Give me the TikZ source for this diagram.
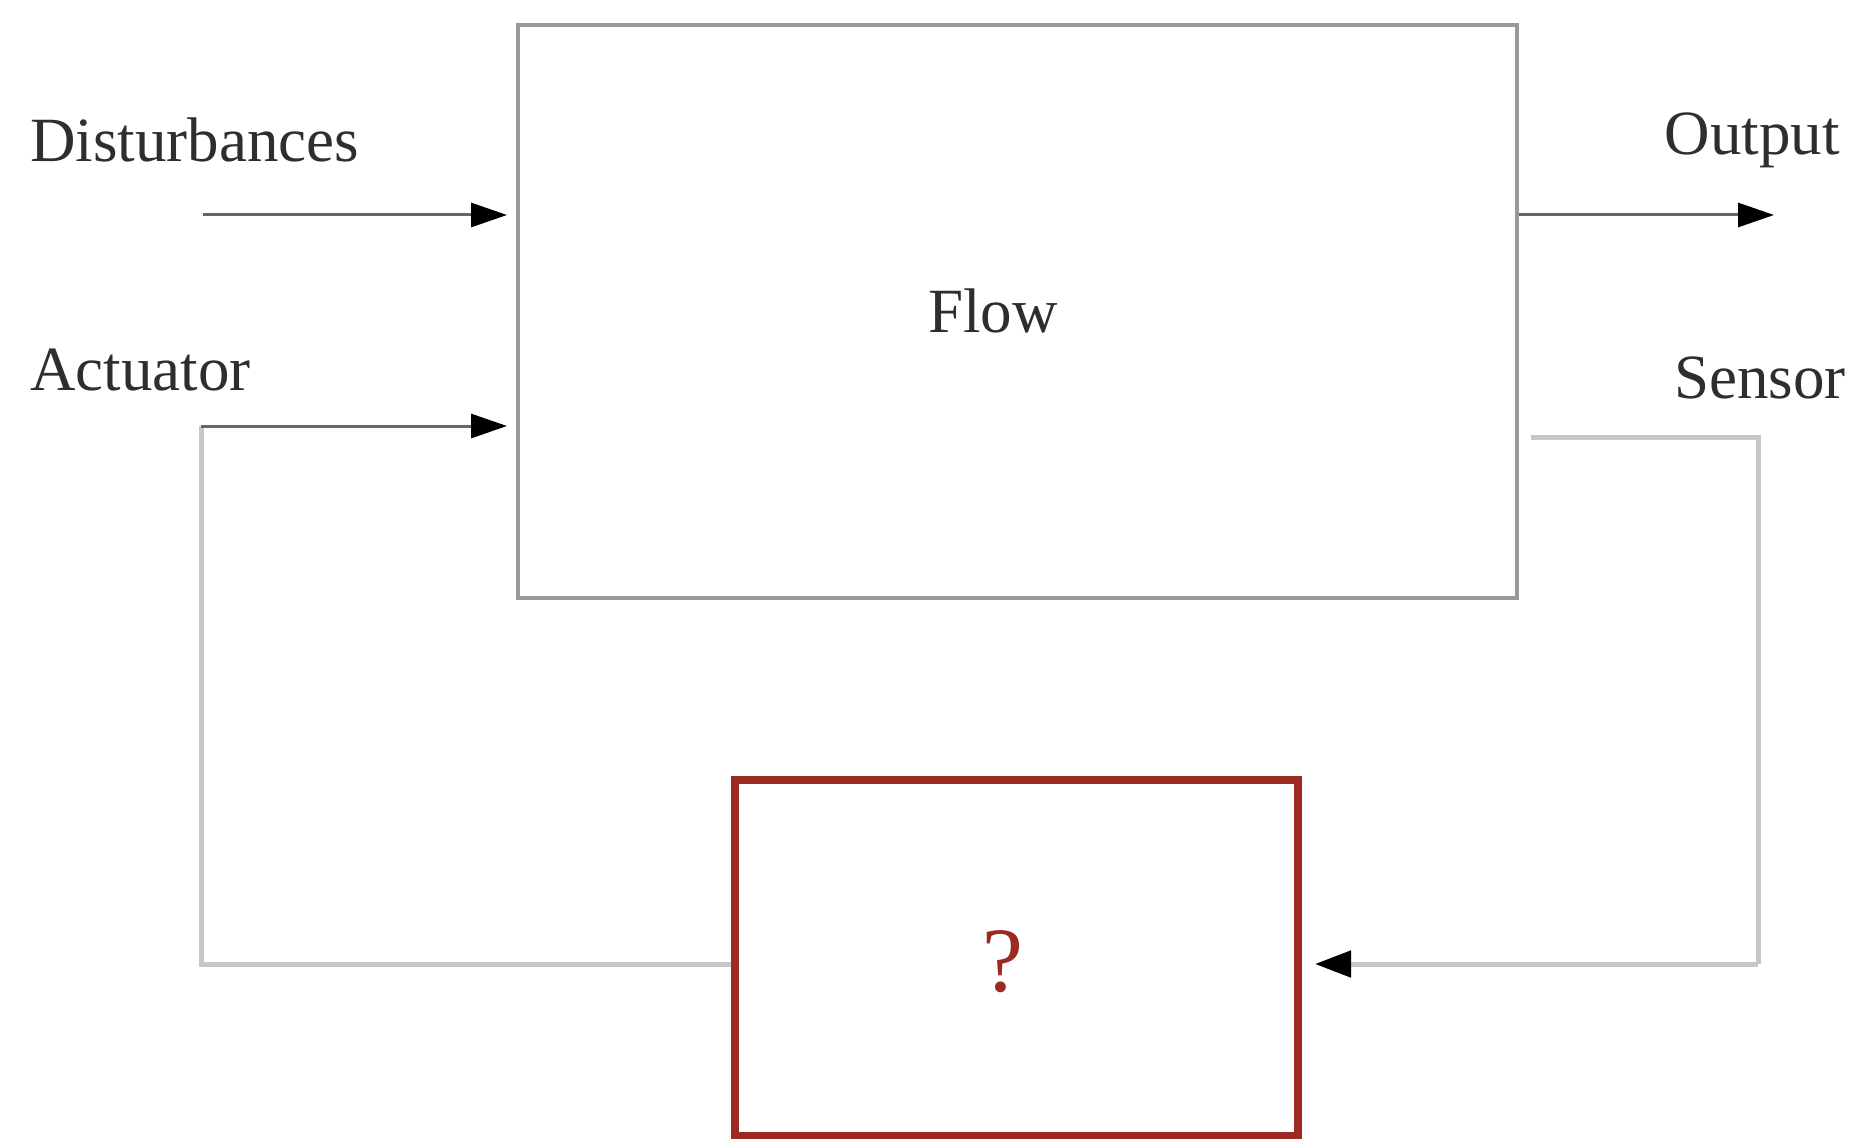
\documentclass[tikz,border=0pt]{standalone}
\usepackage{fontspec}
\setmainfont{Liberation Serif}
\usetikzlibrary{arrows.meta}
\definecolor{boxred}{HTML}{9B2A22}
\definecolor{txt}{HTML}{2E2E2E}
\begin{document}
\begin{tikzpicture}[x=1pt,y=-1pt,
  lbl/.style={text=txt,font=\fontsize{63}{70}\selectfont,inner sep=0pt},
  flowbox/.style={draw=black!40,line width=4pt,minimum width=999pt,minimum height=573pt,inner sep=0pt},
  ctrlbox/.style={draw=boxred,line width=8pt,minimum width=563pt,minimum height=356pt,inner sep=0pt},
  sig/.style={draw=black!60,line width=3pt,-{Triangle[length=36pt,width=24pt,color=black]}},
  fb/.style={draw=black!22,line width=5pt},
  fbarrow/.style={fb,-{Triangle[length=36pt,width=26pt,color=black]}}]
\useasboundingbox[fill=white] (0,0) rectangle (1854,1139);
\node[flowbox] (main) at (1017.5,311.5) {};
\node[lbl] (flow) at (993,311) {Flow};
\node[ctrlbox] (ctrl) at (1016.5,958) {};
\node[lbl,text=boxred,font=\fontsize{92}{100}\selectfont] (q) at (1003,962) {?};
\node[lbl,anchor=west] (dist) at (30,140) {Disturbances};
\node[lbl,anchor=west] (act) at (30,370) {Actuator};
\node[lbl,anchor=east] (out) at (1840,140) {Output};
\node[lbl,anchor=east] (sens) at (1846,378) {Sensor};
\coordinate (din) at (203,215);
\coordinate (dout) at (1774,215);
\coordinate (actc) at (201,964);
\coordinate (acttop) at (201,426);
\coordinate (sstart) at (1531,437);
\coordinate (sc) at (1758,964);
\coordinate (send) at (1315,964);
\draw[sig,shorten >=9pt] (din) -- (din -| main.west);
\draw[sig] (main.east |- dout) -- (dout);
\draw[fb] (ctrl.west |- actc) -- (actc) -- (acttop);
\draw[sig,shorten >=9pt] (acttop) -- (acttop -| main.west);
\draw[fb] (sstart) -| (sc);
\draw[fbarrow] (sc) -- (send);
\end{tikzpicture}
\end{document}
